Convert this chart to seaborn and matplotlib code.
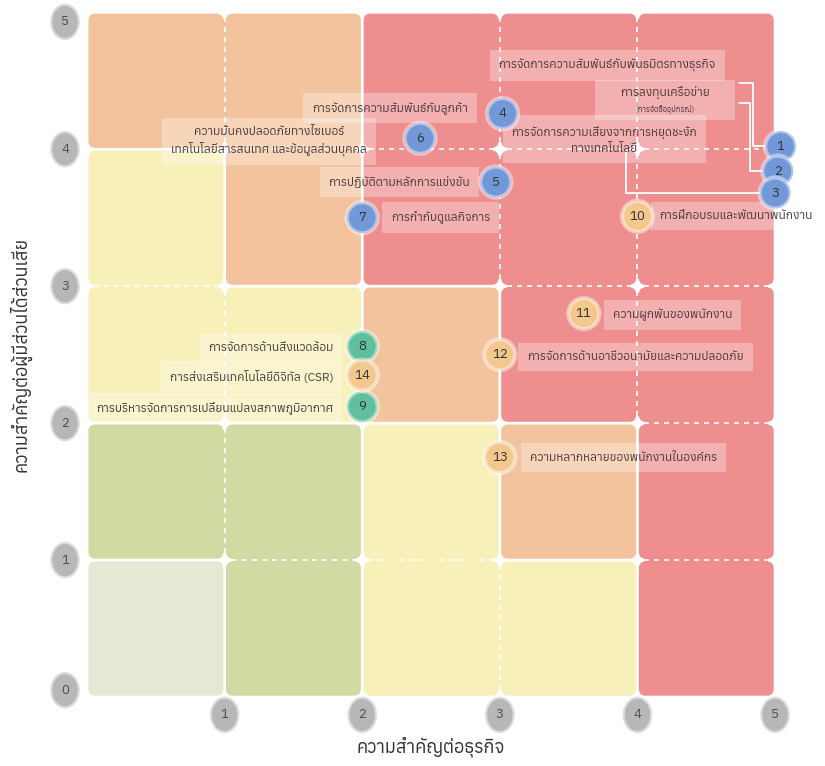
import numpy as np
import matplotlib
matplotlib.use("Agg")
import matplotlib.pyplot as plt
import seaborn as sns
import pandas as pd
from matplotlib import font_manager, ft2font
from matplotlib.patches import Ellipse, FancyBboxPatch, Rectangle
from matplotlib.transforms import Bbox


topic_id = [1, 2, 3, 4, 5, 6, 7, 8, 9, 10, 11, 12, 13, 14]
business = [5.04, 5.02, 5.00, 3.02, 2.97, 2.42, 2.00, 2.00, 2.00, 4.00, 3.61, 3.00, 3.00, 2.00]
stakeholder = [4.02, 3.84, 3.68, 4.26, 3.76, 4.08, 3.50, 2.56, 2.12, 3.51, 2.80, 2.50, 1.75, 2.35]
group = ['governance'] * 7 + ['environment'] * 2 + ['social'] * 5
topic_label = [
    'การจัดการความสัมพันธ์กับพันธมิตรทางธุรกิจ',
    'การลงทุนเครือข่าย\n(การจัดซื้ออุปกรณ์)',
    'การจัดการความเสี่ยงจากการหยุดชะงัก\nทางเทคโนโลยี',
    'การจัดการความสัมพันธ์กับลูกค้า',
    'การปฏิบัติตามหลักการแข่งขัน',
    'ความมั่นคงปลอดภัยทางไซเบอร์\nเทคโนโลยีสารสนเทศ และข้อมูลส่วนบุคคล',
    'การกำกับดูแลกิจการ',
    'การจัดการด้านสิ่งแวดล้อม',
    'การบริหารจัดการการเปลี่ยนแปลงสภาพภูมิอากาศ',
    'การฝึกอบรมและพัฒนาพนักงาน',
    'ความผูกพันของพนักงาน',
    'การจัดการด้านอาชีวอนามัยและความปลอดภัย',
    'ความหลากหลายของพนักงานในองค์กร',
    'การส่งเสริมเทคโนโลยีดิจิทัล (CSR)',
]
scale_ticks = [0, 1, 2, 3, 4, 5]

# zone level of each cell, bottom row first (0 low ... 4 high)
zone_level = [
    [0, 1, 2, 2, 4],
    [1, 1, 2, 3, 4],
    [2, 2, 3, 4, 4],
    [2, 3, 4, 4, 4],
    [3, 3, 4, 4, 4],
]

# layout of the callout labels (x, y, ha)
label_pos = [
    (3.78, 4.61, 'center'), (4.20, 4.36, 'center'), (3.76, 4.07, 'center'),
    (2.20, 4.30, 'center'), (2.27, 3.76, 'center'), (1.32, 4.06, 'center'),
    (2.57, 3.50, 'center'), (1.79, 2.55, 'right'), (1.79, 2.11, 'right'),
    (4.16, 3.51, 'left'), (3.82, 2.79, 'left'), (3.20, 2.48, 'left'),
    (3.22, 1.75, 'left'), (1.79, 2.34, 'right'),
]


# find a family that has Thai glyphs
thai = []
for f in font_manager.fontManager.ttflist:
    try:
        if 0x0E01 in ft2font.FT2Font(f.fname).get_charmap():
            thai.append(f.name)
    except Exception:
        pass

sns.set_theme(style="white")
plt.rcParams['font.family'] = sorted(set(thai))[:1] + ['DejaVu Sans']

zone_colors = ['#e3e9d2', '#cfdba2', '#f8f0b9', '#f3c39d', '#ee8e8e']
dot_colors = {'governance': '#7398d8', 'environment': '#5fbf9e', 'social': '#f4c78f'}
txt_color = '#4a3c3c'
box = dict(boxstyle='square,pad=0.75', fc='white', ec='none', alpha=0.3)

fig = plt.figure(figsize=(8.25, 7.66), dpi=100)
ax = fig.add_axes([0.1055, 0.090, 0.834, 0.894])

lv = np.array(zone_level)
g, r = 0.01, 0.05
for j in range(5):
    for i in range(5):
        c = zone_colors[lv[j, i]]
        ax.add_patch(FancyBboxPatch((i + g, j + g), 1 - 2 * g, 1 - 2 * g,
                                    boxstyle=f'round,pad=0,rounding_size={r}',
                                    fc=c, ec='none', zorder=0))
        # same zone to the right / above: close the gap, mark it dashed
        if i < 4 and lv[j, i + 1] == lv[j, i]:
            ax.add_patch(Rectangle((i + 1 - 2 * g, j + r), 4 * g, 1 - 2 * r, fc=c, ec='none', zorder=0))
            ax.plot([i + 1, i + 1], [j + r, j + 1 - r], color='white', lw=1.2,
                    ls=(0, (3, 3)), zorder=1)
        if j < 4 and lv[j + 1, i] == lv[j, i]:
            ax.add_patch(Rectangle((i + r, j + 1 - 2 * g), 1 - 2 * r, 4 * g, fc=c, ec='none', zorder=0))
            ax.plot([i + r, i + 1 - r], [j + 1, j + 1], color='white', lw=1.2,
                    ls=(0, (3, 3)), zorder=1)

# connectors of items 1-3
ax.plot([4.74, 4.84, 4.84, 4.95], [4.48, 4.48, 4.02, 4.02], color='white', lw=1.3, zorder=2)
ax.plot([4.74, 4.82, 4.82, 4.93], [4.34, 4.34, 3.84, 3.84], color='white', lw=1.3, zorder=2)
ax.plot([3.92, 3.92, 4.9], [3.99, 3.68, 3.68], color='white', lw=1.3, zorder=2)

df = pd.DataFrame({'x': business, 'y': stakeholder, 'g': group, 'id': topic_id})
sns.scatterplot(data=df, x='x', y='y', hue='g', palette=dot_colors, s=500,
                edgecolor=(1, 1, 1, 0.45), linewidth=3, legend=False, ax=ax,
                clip_on=False, zorder=5)

fs = 8.6
two_part = []
for i, row in df.iterrows():
    ax.text(row['x'], row['y'], str(row['id']), ha='center', va='center',
            fontsize=9.5, fontweight='bold', color='#333333', zorder=6)
    lx, ly, ha = label_pos[i]
    if row['id'] == 2:
        first, second = topic_label[i].split('\n')
        t1 = ax.text(lx, ly + 0.055, first, ha=ha, va='center', fontsize=fs, color=txt_color, zorder=4)
        t2 = ax.text(lx, ly - 0.07, second, ha=ha, va='center', fontsize=5.5, color=txt_color, zorder=4)
        two_part = [t1, t2]
        continue
    ax.text(lx, ly, topic_label[i], ha=ha, va='center', fontsize=fs, color=txt_color,
            linespacing=1.5, zorder=4, clip_on=False, bbox=box)

# one shared box behind the two-size label
fig.canvas.draw()
bb = Bbox.union([t.get_window_extent() for t in two_part]).transformed(ax.transData.inverted())
ax.add_patch(Rectangle((bb.x0 - 0.15, bb.y0 - 0.04), bb.width + 0.3, bb.height + 0.08,
                       fc='white', ec='none', alpha=0.3, zorder=3))

# grey scale markers on both axes
for t in scale_ticks:
    ty = np.clip(t, 0.05, 4.93)
    ax.add_patch(Ellipse((-0.16, ty), 0.2, 0.25, fc='#b7b7b7', ec='#dcdcdc', lw=1.5,
                         clip_on=False, zorder=5))
    ax.text(-0.16, ty, str(t), ha='center', va='center', fontsize=9.5, fontweight='bold',
            color='#4d4d4d', zorder=6)
    if t > 0:
        ax.add_patch(Ellipse((t, -0.13), 0.2, 0.25, fc='#b7b7b7', ec='#dcdcdc', lw=1.5,
                             clip_on=False, zorder=5))
        ax.text(t, -0.13, str(t), ha='center', va='center', fontsize=9.5, fontweight='bold',
                color='#4d4d4d', zorder=6)

ax.set_xlim(0, 5)
ax.set_ylim(0, 5)
ax.set_xticks([])
ax.set_yticks([])
sns.despine(ax=ax, left=True, bottom=True)
ax.set_xlabel('ความสำคัญต่อธุรกิจ', fontsize=13, color='#333333', labelpad=28)
ax.set_ylabel('ความสำคัญต่อผู้มีส่วนได้ส่วนเสีย', fontsize=13, color='#333333', labelpad=40)

fig.savefig('out.png', dpi=100)
